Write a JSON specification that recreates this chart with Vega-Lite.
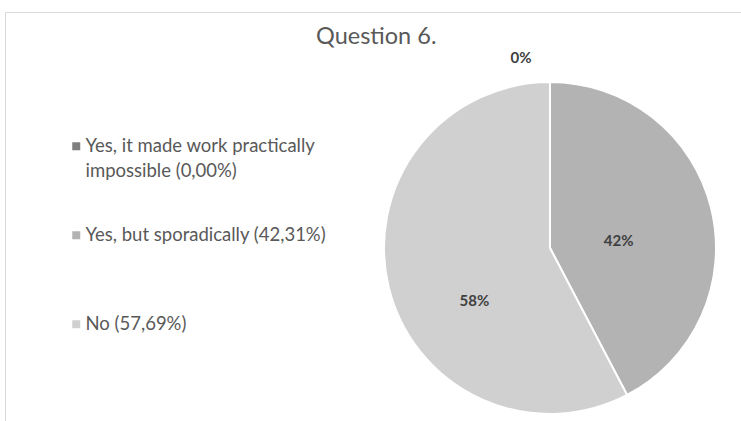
{
  "$schema": "https://vega.github.io/schema/vega-lite/v6.json",
  "autosize": {"type": "none"},
  "padding": {"left": 5, "top": 12, "right": 0, "bottom": 0},
  "width": 1090,
  "height": 472,
  "background": "white",
  "view": {"stroke": "#d9d9d9", "strokeWidth": 1},
  "title": {
    "text": "Question 6.",
    "anchor": "start",
    "frame": "group",
    "dx": 311,
    "dy": 19,
    "offset": -36,
    "baseline": "alphabetic",
    "fontSize": 23.5,
    "fontWeight": "normal",
    "color": "#595959"
  },
  "data": {
    "values": [
      {"idx": 1, "category": "Yes, it made work practically impossible (0,00%)", "value": 0, "label": "0%"},
      {"idx": 2, "category": "Yes, but sporadically (42,31%)", "value": 42.31, "label": "42%"},
      {"idx": 3, "category": "No (57,69%)", "value": 57.69, "label": "58%"}
    ]
  },
  "encoding": {
    "theta": {"field": "value", "type": "quantitative", "stack": true},
    "order": {"field": "idx", "type": "quantitative"}
  },
  "layer": [
    {
      "mark": {"type": "arc", "outerRadius": 166, "stroke": "white", "strokeWidth": 2},
      "encoding": {
        "color": {
          "field": "category",
          "type": "nominal",
          "sort": ["Yes, it made work practically impossible (0,00%)", "Yes, but sporadically (42,31%)", "No (57,69%)"],
          "scale": {
            "domain": ["Yes, it made work practically impossible (0,00%)", "Yes, but sporadically (42,31%)", "No (57,69%)"],
            "range": ["#7f7f7f", "#b3b3b3", "#d0d0d0"]
          },
          "legend": {
            "title": null,
            "orient": "none",
            "legendX": 62,
            "legendY": 125,
            "padding": 0,
            "symbolType": "square",
            "symbolSize": 64,
            "symbolStrokeWidth": 0,
            "labelFontSize": 18.5,
            "labelColor": "#595959",
            "labelBaseline": "middle",
            "labelOffset": 0,
            "labelLimit": 400,
            "gridAlign": "all",
            "rowPadding": 45,
            "labelExpr": "datum.label == 'Yes, it made work practically impossible (0,00%)' ? ['Yes, it made work practically', 'impossible (0,00%)'] : [datum.label, '']"
          }
        }
      }
    },
    {
      "mark": {"type": "text", "radius": 82, "dx": -11, "dy": 13, "fontSize": 15, "fontWeight": "bold", "color": "#404040"},
      "encoding": {"text": {"condition": {"test": "datum.idx == 2", "field": "label"}, "value": ""}}
    },
    {
      "mark": {"type": "text", "radius": 82, "dx": 4, "dy": 33, "fontSize": 15, "fontWeight": "bold", "color": "#404040"},
      "encoding": {"text": {"condition": {"test": "datum.idx == 3", "field": "label"}, "value": ""}}
    },
    {
      "mark": {"type": "text", "radius": 190, "dx": -29, "fontSize": 15, "fontWeight": "bold", "color": "#404040"},
      "encoding": {"text": {"condition": {"test": "datum.idx == 1", "field": "label"}, "value": ""}}
    }
  ],
  "config": {
    "font": "Lato",
    "style": {"guide-label": {"lineHeight": 25}}
  }
}
